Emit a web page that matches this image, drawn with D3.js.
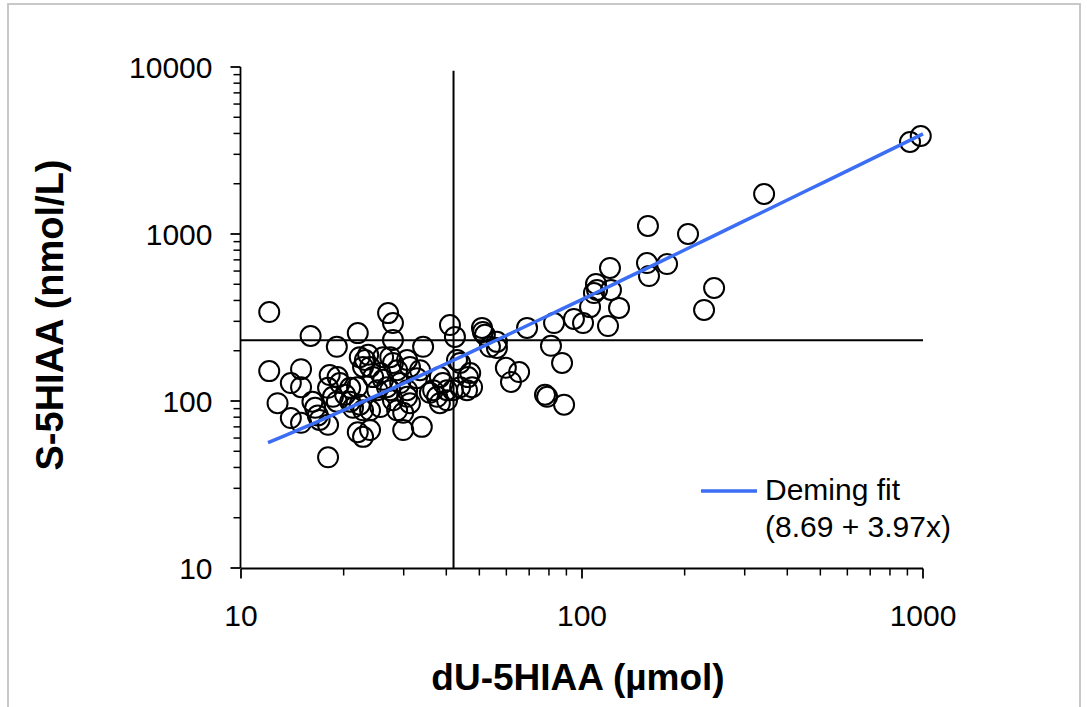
<!DOCTYPE html>
<html>
<head>
<meta charset="utf-8">
<script src="https://cdn.jsdelivr.net/npm/d3@7"></script>
<style>
  body { margin: 0; background: #fff; }
  text { font-family: "Liberation Sans", Arial, sans-serif; fill: #000; }
</style>
</head>
<body>
<svg id="chart" width="1087" height="707"></svg>
<script>
// measured values (dU-5HIAA, S-5HIAA)
const duValues = [12.1, 12.1, 12.8, 14.0, 14.0, 15.0, 15.0, 15.0, 16.0, 16.2, 16.5, 16.8, 17.0, 18.0, 18.0,
  18.2, 19.2, 19.5, 18.0, 18.6, 19.1, 19.1, 20.2, 20.9, 21.3, 20.9, 22.0, 22.3, 22.8, 22.0,
  22.3, 23.1, 23.6, 23.9, 22.8, 24.4, 23.9, 23.9, 22.8, 25.6, 26.1, 26.8, 25.1, 25.6, 27.0,
  27.9, 27.9, 27.4, 27.9, 28.7, 27.9, 28.7, 29.3, 29.9, 29.9, 30.7, 31.3, 30.7, 30.7, 31.3,
  32.8, 33.5, 33.9, 34.2, 35.8, 36.6, 37.6, 38.3, 38.3, 39.1, 40.2, 41.0, 42.4, 43.0, 43.9,
  43.9, 46.0, 46.3, 40.2, 41.8, 21.9, 27.4, 26.1, 47.6, 47.0, 50.9, 51.2, 51.9, 53.7, 56.3,
  56.3, 59.8, 61.9, 65.4, 69.0, 81.1, 82.8, 87.4, 77.9, 79.0, 88.6, 94.7, 100.7, 105.6, 108.4,
  109.9, 110.7, 119.2, 120.8, 121.6, 128.4, 155.1, 156.1, 157.2, 177.6, 204.6, 228, 244, 342,
  916, 985];
const sValues = [341, 151, 97, 128, 79, 155, 121, 74, 245, 99, 91, 82, 77, 72, 46,
  143, 139, 128, 120, 106, 99, 211, 109, 99, 91, 120, 255, 95, 88, 65,
  183, 176, 189, 160, 160, 139, 88, 67, 61, 147, 134, 121, 116, 92, 336,
  293, 232, 183, 169, 153, 101, 88, 128, 85, 67, 176, 160, 116, 106, 97,
  137, 153, 70, 211, 112, 116, 106, 97, 139, 128, 116, 285, 242, 176, 169,
  121, 116, 139, 101, 116, 121, 116, 183, 121, 147, 274, 259, 249, 211, 226,
  208, 158, 130, 149, 274, 214, 293, 169, 109, 106, 95, 310, 293, 365, 443,
  502, 462, 281, 626, 462, 361, 670, 1117, 560, 661, 1000, 351, 475, 1736,
  3555, 3862];

// cut-off lines and Deming fit
const cutoffDU = 42;
const cutoffS = 231;
const fitIntercept = 8.69;
const fitSlope = 3.97;
const fitRange = [12, 1000];

const xTicks = [10, 100, 1000];
const yTicks = [10, 100, 1000, 10000];

const svg = d3.select("#chart");

// outer frame
svg.append("rect")
  .attr("x", 8).attr("y", 4)
  .attr("width", 1072).attr("height", 720)
  .attr("fill", "none")
  .attr("stroke", "#c8c8c8")
  .attr("stroke-width", 2);

const x = d3.scaleLog().domain([10, 1000]).range([241, 923]);
const y = d3.scaleLog().domain([10, 10000]).range([568, 67]);

// minor ticks for every decade
const minorX = x.ticks().filter(v => !xTicks.includes(v));
const minorY = y.ticks().filter(v => !yTicks.includes(v));

const gx = svg.append("g").attr("transform", "translate(0,568.5)");
gx.append("line").attr("x1", x(10)).attr("x2", x(1000)).attr("stroke", "#000").attr("stroke-width", 1.8);
gx.selectAll(".minor").data(minorX).join("line")
  .attr("class", "minor")
  .attr("x1", d => x(d)).attr("x2", d => x(d))
  .attr("y1", 0).attr("y2", 7)
  .attr("stroke", "#000").attr("stroke-width", 1.5);
gx.selectAll(".major").data(xTicks).join("line")
  .attr("class", "major")
  .attr("x1", d => x(d)).attr("x2", d => x(d))
  .attr("y1", 0).attr("y2", 10)
  .attr("stroke", "#000").attr("stroke-width", 1.8);
gx.selectAll("text").data(xTicks).join("text")
  .attr("x", d => x(d)).attr("y", 57.5)
  .attr("text-anchor", "middle")
  .attr("font-size", 30)
  .text(d => d);

const gy = svg.append("g").attr("transform", "translate(240.5,0)");
gy.append("line").attr("y1", y(10)).attr("y2", y(10000)).attr("stroke", "#000").attr("stroke-width", 1.8);
gy.selectAll(".minor").data(minorY).join("line")
  .attr("class", "minor")
  .attr("y1", d => y(d)).attr("y2", d => y(d))
  .attr("x1", 0).attr("x2", -7)
  .attr("stroke", "#000").attr("stroke-width", 1.5);
gy.selectAll(".major").data(yTicks).join("line")
  .attr("class", "major")
  .attr("y1", d => y(d)).attr("y2", d => y(d))
  .attr("x1", 0).attr("x2", -10)
  .attr("stroke", "#000").attr("stroke-width", 1.8);
gy.selectAll("text").data(yTicks).join("text")
  .attr("x", -28).attr("y", d => y(d))
  .attr("dy", "0.36em")
  .attr("text-anchor", "end")
  .attr("font-size", 30)
  .text(d => d);

// axis titles
svg.append("text")
  .attr("x", 578).attr("y", 690)
  .attr("text-anchor", "middle")
  .attr("font-size", 37).attr("font-weight", "bold")
  .text("dU-5HIAA (µmol)");
svg.append("text")
  .attr("transform", "translate(63,315) rotate(-90)")
  .attr("text-anchor", "middle")
  .attr("font-size", 38).attr("font-weight", "bold")
  .text("S-5HIAA (nmol/L)");

// reference lines
svg.append("line")
  .attr("x1", x(cutoffDU)).attr("x2", x(cutoffDU))
  .attr("y1", y(9500)).attr("y2", y(10))
  .attr("stroke", "#000").attr("stroke-width", 2);
svg.append("line")
  .attr("x1", x(10)).attr("x2", x(1000))
  .attr("y1", y(cutoffS)).attr("y2", y(cutoffS))
  .attr("stroke", "#000").attr("stroke-width", 2);

// points
const points = duValues.map((d, i) => ({du: d, s: sValues[i]}));
svg.append("g").selectAll("circle")
  .data(points)
  .join("circle")
    .attr("cx", d => x(d.du))
    .attr("cy", d => y(d.s))
    .attr("r", 10)
    .attr("fill", "none")
    .attr("stroke", "#000")
    .attr("stroke-width", 2);

// fit line: y = a + b*x, drawn along the log x range
const fitX = d3.range(0, 41).map(i => fitRange[0] * Math.pow(fitRange[1] / fitRange[0], i / 40));
svg.append("path")
  .datum(fitX)
  .attr("fill", "none")
  .attr("stroke", "#3b6ef5")
  .attr("stroke-width", 3.5)
  .attr("d", d3.line().x(d => x(d)).y(d => y(fitIntercept + fitSlope * d)));

// legend
const lg = svg.append("g");
lg.append("line")
  .attr("x1", 701).attr("x2", 757)
  .attr("y1", 491).attr("y2", 491)
  .attr("stroke", "#3b6ef5").attr("stroke-width", 3.5);
lg.append("text").attr("x", 765).attr("y", 500).attr("font-size", 30).text("Deming fit");
lg.append("text").attr("x", 765).attr("y", 537).attr("font-size", 30).text("(8.69 + 3.97x)");
</script>
</body>
</html>
